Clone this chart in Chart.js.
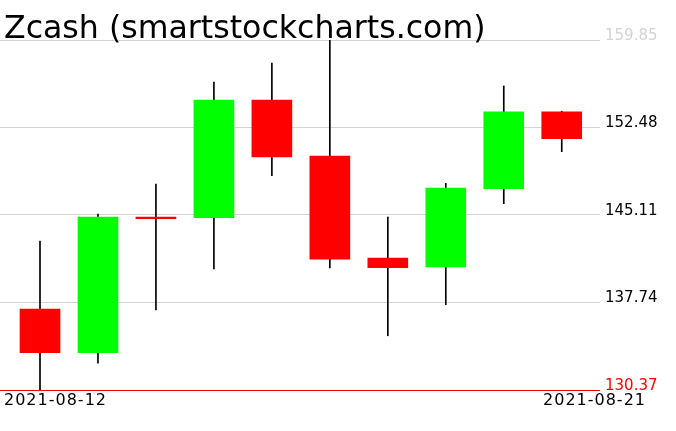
<!DOCTYPE html>
<html>
<head>
<meta charset="utf-8">
<script src="https://cdn.jsdelivr.net/npm/chart.js@4"></script>
<style>
    html, body { margin: 0; padding: 0; background: #fff; }
    #wrap { width: 676px; height: 431px; position: relative; }
</style>
</head>
<body>
<div id="wrap"><canvas id="koersGrafiek"></canvas></div>
<script>
const titel = "Zcash (smartstockcharts.com)";
const datums = ["2021-08-12", "2021-08-13", "2021-08-14", "2021-08-15", "2021-08-16",
                "2021-08-17", "2021-08-18", "2021-08-19", "2021-08-20", "2021-08-21"];
const open  = [137.19, 133.51, 144.94, 144.88, 154.80, 150.08, 141.49, 140.73, 147.32, 153.79];
const hoog  = [142.92, 145.19, 147.72, 156.31, 157.91, 159.85, 144.94, 147.78, 155.98, 153.85];
const laag  = [130.37, 132.62, 137.11, 140.56, 148.42, 140.65, 134.94, 137.55, 146.06, 150.44];
const slot  = [133.51, 144.94, 144.80, 154.80, 150.00, 141.40, 140.67, 147.38, 153.79, 151.54];
const yTicks = [130.37, 137.74, 145.11, 152.48, 159.85];

const lettertype = "'DejaVu Sans', sans-serif";

const lichamen = datums.map((d, i) => ({ x: i, y: [open[i], slot[i]] }));
const lonten = datums.map((d, i) => ({ x: i, y: [laag[i], hoog[i]] }));
const kleuren = datums.map((d, i) => slot[i] >= open[i] ? "#00ff00" : "#ff0000");

// titel en de twee datums worden los op het canvas gezet
const tekstPlugin = {
    id: "tekstPlugin",
    afterDraw(chart) {
        const ctx = chart.ctx;
        ctx.save();
        ctx.fillStyle = "#000";
        ctx.font = "31.6px " + lettertype;
        ctx.textBaseline = "alphabetic";
        ctx.textAlign = "left";
        ctx.fillText(titel, 4, 38);
        ctx.font = "16px " + lettertype;
        ctx.letterSpacing = "1px";
        ctx.textBaseline = "top";
        ctx.fillText(datums[0], 4, 393);
        ctx.textAlign = "right";
        ctx.fillText(datums[datums.length - 1], 646, 393);
        ctx.restore();
    }
};

new Chart(document.getElementById("koersGrafiek"), {
    type: "bar",
    data: {
        datasets: [
            {
                label: "lont",
                data: lonten,
                backgroundColor: "#000",
                barThickness: 1,
                grouped: false,
                order: 2,
            },
            {
                label: "lichaam",
                data: lichamen,
                backgroundColor: kleuren,
                barThickness: 40,
                grouped: false,
                order: 1,
            },
        ],
    },
    options: {
        responsive: true,
        maintainAspectRatio: false,
        animation: false,
        layout: { padding: { top: 40, bottom: 41, left: 0, right: 0 } },
        plugins: {
            legend: { display: false },
            tooltip: { enabled: false },
            title: { display: false },
        },
        scales: {
            x: {
                type: "linear",
                display: false,
                offset: false,
                min: -0.69,
                max: 9.66,
            },
            y: {
                position: "right",
                min: 130.37,
                max: 159.85,
                z: 1,
                afterBuildTicks: (as) => { as.ticks = yTicks.map(v => ({ value: v })); },
                afterFit: (as) => { as.width = 76; },
                border: { display: false },
                grid: {
                    drawTicks: false,
                    color: (c) => c.tick && c.tick.value === 130.37 ? "#ff0000" : "#d3d3d3",
                },
                ticks: {
                    padding: 5,
                    labelOffset: -4,
                    font: { family: lettertype, size: 15 },
                    color: (c) => {
                        if (c.tick.value === 130.37) return "#ff0000";
                        if (c.tick.value === 159.85) return "#d3d3d3";
                        return "#000";
                    },
                    callback: (v) => v.toFixed(2),
                },
            },
        },
    },
    plugins: [tekstPlugin],
});
</script>
</body>
</html>
